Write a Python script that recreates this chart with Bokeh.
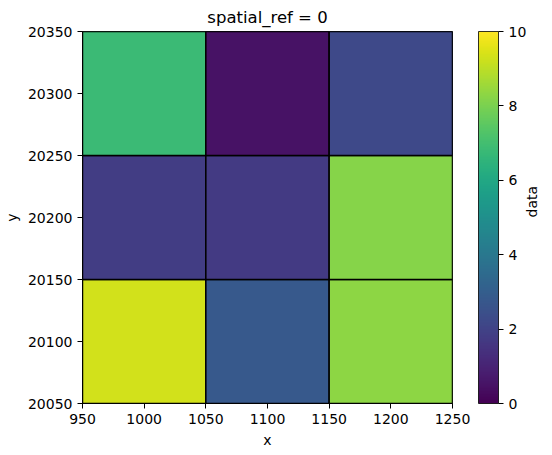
import numpy as np
from bokeh.plotting import figure
from bokeh.models import LinearColorMapper, ColorBar, FixedTicker, LinearAxis, ColumnDataSource
from bokeh.palettes import Viridis256
from bokeh.embed import file_html
from bokeh.resources import INLINE

# ---- data ----
x_centers = [1000, 1100, 1200]
y_centers = [20100, 20200, 20300]
cell_size = 100
# rows from bottom (y=20100) to top (y=20300)
data_values = [
    [9.3, 2.8, 8.3],
    [1.8, 1.7, 8.2],
    [6.8, 0.5, 2.2],
]
x_ticks = [950, 1000, 1050, 1100, 1150, 1200, 1250]
y_ticks = [20050, 20100, 20150, 20200, 20250, 20300, 20350]
cbar_ticks = [0, 2, 4, 6, 8, 10]
v_low, v_high = 0, 10

xs, ys, vs = [], [], []
for j, yc in enumerate(y_centers):
    for i, xc in enumerate(x_centers):
        xs.append(xc)
        ys.append(yc)
        vs.append(data_values[j][i])
src = ColumnDataSource(dict(x=xs, y=ys, v=vs,
                            left=[x - cell_size / 2 for x in xs],
                            right=[x + cell_size / 2 for x in xs],
                            bottom=[y - cell_size / 2 for y in ys],
                            top=[y + cell_size / 2 for y in ys]))

mapper = LinearColorMapper(palette=Viridis256, low=v_low, high=v_high)

FONT = "DejaVu Sans"

p = figure(frame_width=370, frame_height=372,
           x_range=(950, 1250), y_range=(20050, 20350),
           output_backend="svg", toolbar_location=None,
           min_border_left=75, min_border_right=10,
           min_border_top=24, min_border_bottom=43,
           title="spatial_ref = 0")

p.quad(left="left", right="right", bottom="bottom", top="top", source=src,
       fill_color={"field": "v", "transform": mapper},
       line_color="black", line_width=1.5)

p.grid.visible = False
p.outline_line_color = "black"
p.outline_line_width = 1
p.background_fill_color = "white"

p.title.align = "center"
p.title.text_font = FONT
p.title.text_font_size = "16.5px"
p.title.text_font_style = "normal"
p.title.text_color = "black"

for ax, lab, ticks in ((p.xaxis[0], "x", x_ticks), (p.yaxis[0], "y", y_ticks)):
    ax.ticker = FixedTicker(ticks=ticks)
    ax.axis_label = lab
    ax.axis_label_text_font = FONT
    ax.axis_label_text_font_size = "14px"
    ax.axis_label_text_font_style = "normal"
    ax.axis_label_text_color = "black"
    ax.major_label_text_font = FONT
    ax.major_label_text_font_size = "14px"
    ax.major_label_text_color = "black"
    ax.major_tick_in = 0
    ax.major_tick_out = 5
    ax.minor_tick_line_color = None
    ax.axis_line_color = "black"
    ax.major_tick_line_color = "black"

cbar = ColorBar(color_mapper=mapper, width=20, padding=0, margin=0,
                location=(26, 0),
                ticker=FixedTicker(ticks=cbar_ticks),
                major_label_text_font=FONT,
                major_label_text_font_size="14px",
                major_label_text_color="black",
                major_tick_in=0, major_tick_out=5,
                major_tick_line_color="black",
                minor_tick_line_color=None,
                bar_line_color="black", bar_line_width=0.8,
                background_fill_color=None, border_line_color=None)
p.add_layout(cbar, "right")

label_axis = LinearAxis(axis_label="data", ticker=FixedTicker(ticks=[]),
                        axis_line_color=None, major_tick_line_color=None,
                        minor_tick_line_color=None,
                        major_label_text_font_size="0px",
                        axis_label_orientation=np.pi / 2,
                        axis_label_standoff=2,
                        axis_label_text_font=FONT,
                        axis_label_text_font_size="14px",
                        axis_label_text_font_style="normal",
                        axis_label_text_color="black")
p.add_layout(label_axis, "right")

open("out.html", "w").write(file_html(p, INLINE))
